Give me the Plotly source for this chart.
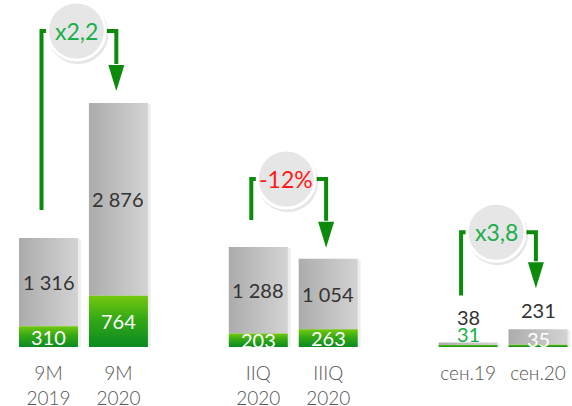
import plotly.graph_objects as go

# --- data ---
categories = ["9M<br>2019", "9M<br>2020", "IIQ<br>2020", "IIIQ<br>2020", "сен.19", "сен.20"]
green_vals = [310, 764, 203, 263, 31, 35]
grey_vals = [1316, 2876, 1288, 1054, 38, 231]
group_of = [0, 0, 1, 1, 2, 2]
change_labels = ["x2,2", "-12%", "x3,8"]
change_colors = ["#1aaf4b", "#ff1a1a", "#1aaf4b"]

# --- layout constants ---
W, H = 572, 406
MB = 59                      # bottom margin, baseline at pixel 347
PLOT_H = H - MB
UNIT_PX = 69.93              # pixels per x unit
X0_PX = 48.5                 # pixel of first bar centre
BAR_W = 59 / UNIT_PX
Y_MAX = 5177
DPX = Y_MAX / PLOT_H         # data units per pixel

ARROW_GREEN = "#0b8a0b"
FONT = "Lato"

# x position of each bar: two per group, one empty slot between groups
x_pos = [g * 3 + (i % 2) for i, g in enumerate(group_of)]
totals = [a + b for a, b in zip(green_vals, grey_vals)]

fig = go.Figure()


def rect(x, y0, y1, grad):
    xl, xr = x - BAR_W / 2, x + BAR_W / 2
    fig.add_trace(go.Scatter(
        x=[xl, xr, xr, xl, xl], y=[y0, y0, y1, y1, y0],
        mode="lines", line=dict(width=0), fill="toself",
        fillgradient=grad, hoverinfo="skip", showlegend=False,
    ))


grey_grad = dict(type="horizontal", colorscale=[[0, "#acacac"], [1, "#d3d3d3"]])
green_grad = dict(type="vertical", colorscale=[[0, "#0a8a22"], [0.55, "#34a915"], [1, "#74c80f"]])

# bars: green bottom, grey on top
for i, x in enumerate(x_pos):
    # soft shadow
    fig.add_shape(type="rect", x0=x - BAR_W / 2 + 0.02, x1=x + BAR_W / 2 + 0.04,
                  y0=-3 * DPX, y1=totals[i] - 1 * DPX,
                  fillcolor="rgba(0,0,0,0.07)", line_width=0, layer="below")
    rect(x, green_vals[i], totals[i], grey_grad)
    rect(x, 0, green_vals[i], green_grad)

# value labels
for i, x in enumerate(x_pos):
    bar_px = totals[i] / DPX
    if bar_px > 40:
        fig.add_annotation(x=x, y=green_vals[i] + grey_vals[i] / 2, text=f"{grey_vals[i]:,}".replace(",", " "),
                           showarrow=False, font=dict(family=FONT, size=20, color="#333333"))
        fig.add_annotation(x=x, y=green_vals[i] / 2, text=str(green_vals[i]), showarrow=False,
                           font=dict(family=FONT, size=20, color="white"))
    elif bar_px > 10:
        fig.add_annotation(x=x, y=totals[i], yshift=19, text=str(grey_vals[i]), showarrow=False,
                           font=dict(family=FONT, size=20, color="#333333"))
        fig.add_annotation(x=x, y=totals[i] / 2, yshift=-1, text=str(green_vals[i]), showarrow=False,
                           font=dict(family=FONT, size=20, color="white"))
    else:
        fig.add_annotation(x=x, y=totals[i], yshift=25, text=str(grey_vals[i]), showarrow=False,
                           font=dict(family=FONT, size=20, color="#333333"))
        fig.add_annotation(x=x, y=totals[i], yshift=8, text=str(green_vals[i]), showarrow=False,
                           font=dict(family=FONT, size=20, color="#1aaf4b"))

# change arrows: level above taller bar, gap above left bar, gap at arrow tip (all px)
arrow_geom = [(72, 28, 12), (68, 27, 11), (97, 47, 41)]
HEAD_L, HEAD_W = 26, 16
for g in range(3):
    i0, i1 = 2 * g, 2 * g + 1
    xl = x_pos[i0] - 0.1
    xr = x_pos[i1] - 0.03
    level_px, left_gap, tip_gap = arrow_geom[g]
    level = max(totals[i0], totals[i1]) + level_px * DPX
    y_left = totals[i0] + left_gap * DPX
    y_tip = totals[i1] + tip_gap * DPX
    y_base = y_tip + HEAD_L * DPX
    fig.add_trace(go.Scatter(
        x=[xl, xl, xr, xr], y=[y_left, level, level, y_base + 1 * DPX],
        mode="lines", line=dict(color=ARROW_GREEN, width=4),
        hoverinfo="skip", showlegend=False,
    ))
    hw = HEAD_W / 2 / UNIT_PX
    fig.add_trace(go.Scatter(
        x=[xr - hw, xr + hw, xr, xr - hw], y=[y_base, y_base, y_tip, y_base],
        mode="lines", line=dict(width=0, color=ARROW_GREEN), fill="toself",
        fillcolor=ARROW_GREEN, hoverinfo="skip", showlegend=False,
    ))
    # badge circle
    cx = (x_pos[i0] + x_pos[i1]) / 2 - 0.1
    cy = level
    fig.add_shape(type="circle", xref="x", yref="y", xsizemode="pixel", ysizemode="pixel",
                  xanchor=cx, yanchor=cy, x0=-29, x1=32, y0=-33, y1=28,
                  fillcolor="rgba(0,0,0,0.10)", line_width=0, layer="above")
    fig.add_shape(type="circle", xref="x", yref="y", xsizemode="pixel", ysizemode="pixel",
                  xanchor=cx, yanchor=cy, x0=-29, x1=29, y0=-29, y1=29,
                  fillcolor="#e6e6e6", line=dict(color="white", width=3), layer="above")
    fig.add_annotation(x=cx, y=cy, text=change_labels[g], showarrow=False,
                       font=dict(family=FONT, size=23, color=change_colors[g]))

fig.update_layout(
    width=W, height=H,
    margin=dict(l=0, r=0, t=0, b=MB),
    plot_bgcolor="white", paper_bgcolor="white",
    showlegend=False,
    xaxis=dict(range=[-X0_PX / UNIT_PX, (W - X0_PX) / UNIT_PX], tickvals=x_pos, ticktext=categories,
               showgrid=False, zeroline=False, showline=False, ticks="", automargin=False,
               ticklabelstandoff=13,
               tickfont=dict(family=FONT, size=19, color="#555555", weight=300)),
    yaxis=dict(range=[0, Y_MAX], visible=False),
    font=dict(family=FONT),
)

fig.write_html("out.html", config={"displayModeBar": False},
               post_script="document.body.style.margin='0';")
